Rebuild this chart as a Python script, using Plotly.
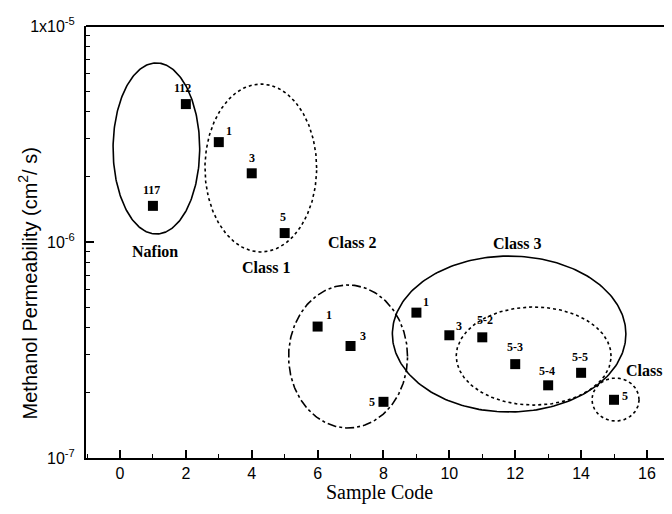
import plotly.graph_objects as go
import numpy as np

# ---- data ----
sample_code = [1, 2, 3, 4, 5, 6, 7, 8, 9, 10, 11, 12, 13, 14, 15]
permeability = [1.47e-6, 4.35e-6, 2.90e-6, 2.08e-6, 1.10e-6,
                4.06e-7, 3.30e-7, 1.82e-7,
                4.71e-7, 3.70e-7, 3.62e-7, 2.72e-7, 2.17e-7, 2.48e-7,
                1.86e-7]
point_labels = ["117", "112", "1", "3", "5", "1", "3", "5",
                "1", "3", "5-2", "5-3", "5-4", "5-5", "5"]
# label anchor positions (x, log10 y)
label_x = [0.97, 1.91, 3.31, 4.0, 4.95, 6.34, 7.38, 7.65,
           9.29, 10.29, 11.08, 11.99, 12.96, 13.96, 15.33]
label_logy = [-5.759, -5.287, -5.486, -5.611, -5.884, -6.338, -6.435, -6.741,
              -6.278, -6.389, -6.361, -6.486, -6.597, -6.532, -6.713]

group_names = ["Nafion", "Class 1", "Class 2", "Class 3", "Class 4"]
group_x = [1.06, 4.43, 7.04, 12.05, 15.3]
group_logy = [-6.046, -6.116, -6.0, -6.005, -6.597]
group_anchor = ["center", "center", "center", "center", "left"]

# ellipse extents: x0, x1, log10 y bottom, log10 y top, dash style
ellipses = [
    (-0.21, 2.42, -5.963, -5.171, "solid"),
    (2.58, 5.97, -6.046, -5.269, "dot"),
    (5.12, 8.73, -6.861, -6.199, "dashdot"),
    (8.27, 15.36, -6.787, -6.065, "solid"),
    (10.21, 14.91, -6.755, -6.301, "dot"),
    (14.33, 15.76, -6.829, -6.630, "dot"),
]

y_tickvals = [1e-7, 1e-6, 1e-5]
y_ticktext = ["10<sup>-7</sup>", "10<sup>-6</sup>", "1x10<sup>-5</sup>"]
y_minor = [m * 10.0 ** e for e in (-7, -6) for m in range(2, 10)]
x_tickvals = [0, 2, 4, 6, 8, 10, 12, 14, 16]
x_minor = [-1, 1, 3, 5, 7, 9, 11, 13, 15]

fig = go.Figure()

theta = np.linspace(0, 2 * np.pi, 241)
for (x0, x1, y0, y1, dash) in ellipses:
    cx, cy = (x0 + x1) / 2, (y0 + y1) / 2
    rx, ry = (x1 - x0) / 2, (y1 - y0) / 2
    fig.add_trace(go.Scatter(
        x=cx + rx * np.cos(theta), y=10 ** (cy + ry * np.sin(theta)),
        mode="lines", line=dict(color="black", width=1.6, dash=dash),
        hoverinfo="skip", showlegend=False,
    ))

fig.add_trace(go.Scatter(
    x=sample_code, y=permeability, mode="markers",
    marker=dict(symbol="square", size=10, color="black"),
    showlegend=False,
))

for t, lx, ly in zip(point_labels, label_x, label_logy):
    fig.add_annotation(x=lx, y=ly, text="<b>" + t + "</b>", showarrow=False, xref="x", yref="y",
                       font=dict(family="Liberation Serif", size=12, color="black"))

for t, gx, gy, anc in zip(group_names, group_x, group_logy, group_anchor):
    fig.add_annotation(x=gx, y=gy, text="<b>" + t + "</b>", showarrow=False,
                       xref="x", yref="y", xanchor=anc,
                       font=dict(family="Liberation Serif", size=16, color="black"))

# axis titles
fig.add_annotation(x=-0.1, y=0.405, xref="paper", yref="paper", showarrow=False,
                   xanchor="center", yanchor="middle",
                   text="Methanol Permeability (cm<sup>2</sup>/ s)", textangle=-90,
                   font=dict(family="Liberation Sans", size=20, color="black"))
fig.add_annotation(x=0.5, y=-0.079, xref="paper", yref="paper", showarrow=False,
                   text="Sample Code", xanchor="center", yanchor="middle",
                   font=dict(family="Liberation Serif", size=20, color="black"))

# top frame line
fig.add_shape(type="line", xref="paper", yref="paper", x0=0, x1=1, y0=1, y1=1,
              line=dict(color="black", width=2))

fig.update_layout(
    width=664, height=506,
    margin=dict(l=78, r=0, t=18, b=56),
    paper_bgcolor="white", plot_bgcolor="white",
    xaxis=dict(
        range=[-1.032, 16.76], tickvals=x_tickvals, ticks="inside", ticklen=8,
        tickwidth=1.5, tickcolor="black", showline=True, linecolor="black",
        linewidth=2, showgrid=False, zeroline=False, automargin=False,
        minor=dict(ticks="inside", ticklen=4, tickwidth=1.2, tickcolor="black",
                   tickvals=x_minor, showgrid=False),
        tickfont=dict(family="Liberation Sans", size=16, color="black"),
    ),
    yaxis=dict(
        type="log", range=[-7, -5], tickvals=y_tickvals, ticktext=y_ticktext,
        ticks="inside", ticklen=8, tickwidth=1.5, tickcolor="black",
        showline=True, linecolor="black", linewidth=2, showgrid=False, zeroline=False,
        automargin=False, ticklabelstandoff=6,
        minor=dict(ticks="inside", ticklen=4, tickwidth=1.2, tickcolor="black",
                   tickvals=y_minor, showgrid=False),
        tickfont=dict(family="Liberation Sans", size=16, color="black"),
    ),
)

fig.write_html("out.html")
